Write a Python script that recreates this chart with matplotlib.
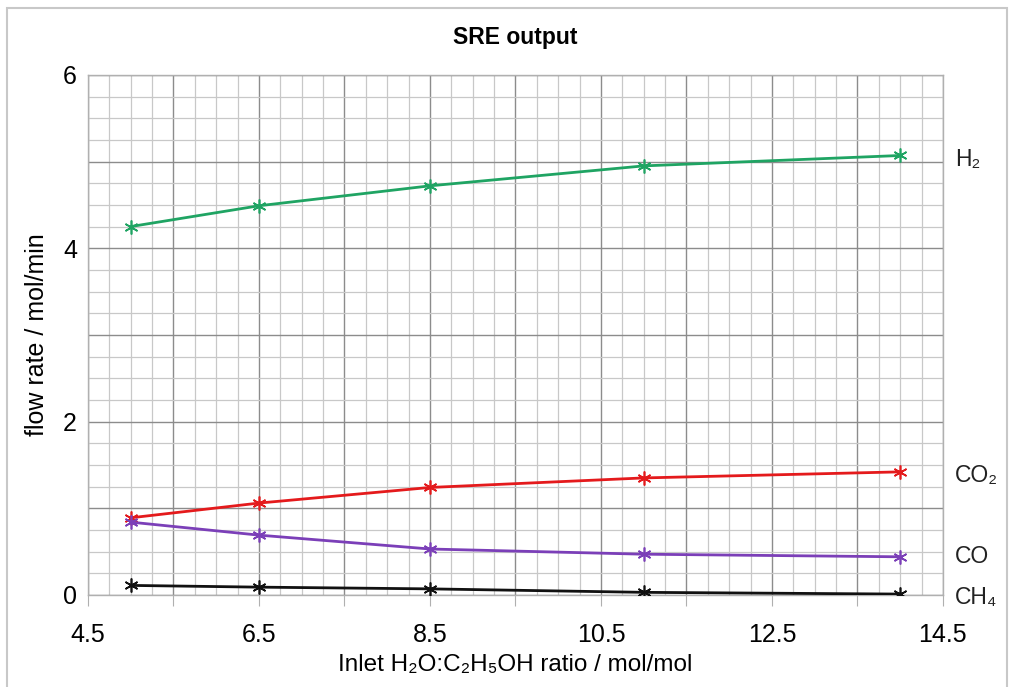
import matplotlib
matplotlib.use("Agg")
import matplotlib.pyplot as plt
from matplotlib.patches import Rectangle
from matplotlib.ticker import MultipleLocator, FuncFormatter

plt.rcParams["font.family"] = ["Liberation Sans", "DejaVu Sans"]

# data
ratio = [5.0, 6.5, 8.5, 11.0, 14.0]
h2 = [4.25, 4.49, 4.72, 4.95, 5.07]
co2 = [0.89, 1.06, 1.24, 1.35, 1.42]
co = [0.84, 0.69, 0.53, 0.47, 0.44]
ch4 = [0.11, 0.09, 0.07, 0.03, 0.01]

series = [
    ("H\u2082", h2, "#1fa463", 5.02),
    ("CO\u2082", co2, "#e41a1c", 1.38),
    ("CO", co, "#7b3fb8", 0.44),
    ("CH\u2084", ch4, "#111111", -0.03),
]

fig = plt.figure(figsize=(10.15, 6.87), dpi=100)
ax = fig.add_axes([0.0867, 0.134, 0.8423, 0.757])

fig.patches.append(Rectangle((0.007, -0.01), 0.985, 0.998, transform=fig.transFigure,
                             fill=False, edgecolor="#c8c8c8", linewidth=1.5))

for name, vals, color, ylab in series:
    ax.plot(ratio, vals, color=color, linewidth=2, marker=(6, 2, 0),
            markersize=10, markeredgewidth=1.2, zorder=3)
    ax.text(14.64, ylab, name, color="#222222", fontsize=16.5, va="center",
            ha="left", clip_on=False)

ax.set_xlim(4.5, 14.5)
ax.set_ylim(0, 6)
ax.xaxis.set_major_locator(MultipleLocator(1.0, offset=0.5))
ax.xaxis.set_minor_locator(MultipleLocator(0.25))
ax.yaxis.set_major_locator(MultipleLocator(1.0))
ax.yaxis.set_minor_locator(MultipleLocator(0.25))


def xfmt(v, pos):
    return f"{v:.1f}" if round(v - 4.5) % 2 == 0 else ""


def yfmt(v, pos):
    return f"{v:.0f}" if round(v) % 2 == 0 else ""


ax.xaxis.set_major_formatter(FuncFormatter(xfmt))
ax.yaxis.set_major_formatter(FuncFormatter(yfmt))

ax.grid(which="major", color="#8c8c8c", linewidth=1.0)
ax.grid(which="minor", color="#c8c8c8", linewidth=0.9)
ax.set_axisbelow(True)
for sp in ax.spines.values():
    sp.set_color("#b0b0b0")
    sp.set_linewidth(1.0)

ax.tick_params(which="major", axis="x", length=8, color="#b0b0b0", pad=12, labelsize=18)
ax.tick_params(which="major", axis="y", length=0, pad=8, labelsize=18)
ax.tick_params(which="minor", length=0)

ax.set_title("SRE output", fontsize=16.5, fontweight="bold", pad=22)
ax.set_xlabel("Inlet H\u2082O:C\u2082H\u2085OH ratio / mol/mol", fontsize=17.5, labelpad=5)
ax.set_ylabel("flow rate / mol/min", fontsize=18, labelpad=10)

fig.savefig("out.png", dpi=100)
